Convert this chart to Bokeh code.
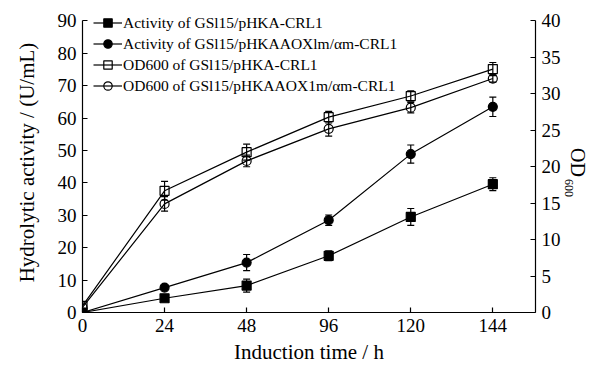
from bokeh.plotting import figure
from bokeh.models import (Range1d, LinearAxis, FixedTicker, Whisker, TeeHead,
                          ColumnDataSource, Legend, LegendItem, Title)
from bokeh.embed import file_html
from bokeh.resources import INLINE

# ---------------- data ----------------
times = ["0", "24", "48", "96", "120", "144"]
act_crl1 = [0, 4.4, 8.3, 17.5, 29.5, 39.6]
act_crl1_err = [0, 0.7, 2.0, 1.5, 2.6, 2.0]
act_aox = [0, 7.7, 15.4, 28.5, 48.9, 63.5]
act_aox_err = [0, 0.5, 2.5, 1.6, 2.8, 3.0]
od_crl1 = [0.9, 16.7, 22.0, 26.8, 29.7, 33.4]
od_crl1_err = [0, 1.3, 1.1, 0.8, 0.7, 0.9]
od_aox = [0.7, 14.9, 20.8, 25.2, 28.1, 32.1]
od_aox_err = [0, 1.0, 0.8, 1.0, 0.7, 0.5]
left_ticks = [0, 10, 20, 30, 40, 50, 60, 70, 80, 90]
right_ticks = [0, 5, 10, 15, 20, 25, 30, 35, 40]
labels = ["Activity of GSl15/pHKA-CRL1",
          "Activity of GSl15/pHKAAOXlm/\u03b1m-CRL1",
          "OD600 of GSl15/pHKA-CRL1",
          "OD600 of GSl15/pHKAAOX1m/\u03b1m-CRL1"]

FONT = "Liberation Serif"
xs = list(range(len(times)))
LEFT_MAX, RIGHT_MAX = 90, 40
TOP_PAD = 1.029  # a little headroom above the axes for the legend

p = figure(width=589, height=369, output_backend="svg", toolbar_location=None,
           x_range=Range1d(0, 5.52), y_range=Range1d(0, LEFT_MAX * TOP_PAD),
           min_border_left=82, min_border_right=54, min_border_top=12,
           min_border_bottom=57)
p.extra_y_ranges = {"od": Range1d(0, RIGHT_MAX * TOP_PAD)}
p.xgrid.visible = False
p.ygrid.visible = False
p.outline_line_color = None
p.background_fill_color = "white"
p.border_fill_color = "white"


def style_axis(ax):
    ax.axis_line_color = "black"
    ax.axis_line_width = 1.2
    ax.major_tick_line_color = "black"
    ax.major_tick_line_width = 1.2
    ax.major_tick_in = 5
    ax.major_tick_out = 0
    ax.minor_tick_line_color = None
    ax.major_label_text_font = FONT
    ax.major_label_text_font_size = "19px"
    ax.major_label_text_color = "black"
    ax.axis_label_text_font = FONT
    ax.axis_label_text_font_size = "21px"
    ax.axis_label_text_font_style = "normal"
    ax.axis_label_text_color = "black"


xa = p.xaxis[0]
style_axis(xa)
xa.ticker = FixedTicker(ticks=xs)
xa.major_label_overrides = {i: t for i, t in zip(xs, times)}
xa.axis_label = "Induction time / h"
xa.major_label_standoff = 6
xa.axis_label_standoff = 5

ya = p.yaxis[0]
style_axis(ya)
ya.ticker = FixedTicker(ticks=left_ticks)
ya.bounds = (0, LEFT_MAX)
ya.axis_label = "Hydrolytic activity / (U/mL)"
ya.major_label_standoff = 6
ya.axis_label_standoff = 16

ra = LinearAxis(y_range_name="od")
style_axis(ra)
ra.ticker = FixedTicker(ticks=right_ticks)
ra.bounds = (0, RIGHT_MAX)
ra.major_label_standoff = 6
ra.axis_label = "\u00a0" * 17 + "600"
ra.axis_label_text_font_size = "12px"
ra.axis_label_standoff = -2
p.add_layout(ra, "right")

od_title = Title(text="OD", text_font=FONT, text_font_size="20px",
                 text_font_style="normal", text_color="black",
                 align="center", vertical_align="bottom", standoff=-23)
p.add_layout(od_title, "right")

series = [
    (act_crl1, act_crl1_err, "default", "square", "black"),
    (act_aox, act_aox_err, "default", "circle", "black"),
    (od_crl1, od_crl1_err, "od", "square", None),
    (od_aox, od_aox_err, "od", "circle", None),
]

items = []
for (vals, errs, rng, marker, fill), lab in zip(series, labels):
    ln = p.line(xs, vals, line_color="black", line_width=1.2, y_range_name=rng)
    idx = [i for i, e in enumerate(errs) if e > 0]
    wsrc = ColumnDataSource(dict(x=[xs[i] for i in idx],
                                 upper=[vals[i] + errs[i] for i in idx],
                                 lower=[vals[i] - errs[i] for i in idx]))
    w = Whisker(source=wsrc, base="x", upper="upper", lower="lower",
                dimension="height", line_color="black", line_width=1.2,
                upper_head=TeeHead(size=7, line_width=1.2, line_color="black"),
                lower_head=TeeHead(size=7, line_width=1.2, line_color="black"),
                y_range_name=rng)
    p.add_layout(w)
    sc = p.scatter(xs, vals, marker=marker, size=9, line_color="black",
                   line_width=1.2, fill_color=fill, y_range_name=rng)
    items.append(LegendItem(label=lab, renderers=[ln, sc]))

legend = Legend(items=items, location=(11, 216), padding=0, margin=0, spacing=0,
                glyph_width=29, glyph_height=21, label_height=21,
                label_standoff=1, border_line_color=None,
                background_fill_alpha=0.0,
                label_text_font=FONT, label_text_font_size="15.5px",
                label_text_color="black")
p.add_layout(legend)

open("out.html", "w").write(file_html(p, INLINE))
